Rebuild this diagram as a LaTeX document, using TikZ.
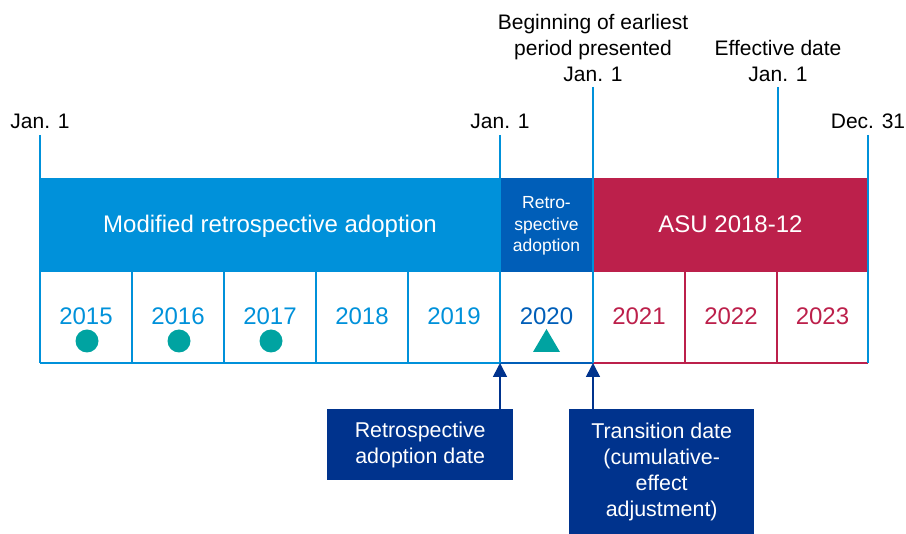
\documentclass[tikz,border=0pt]{standalone}
\usepackage{fontspec}
\setmainfont{Liberation Sans}
\usetikzlibrary{arrows.meta}
\definecolor{kblue}{HTML}{0091DA}
\definecolor{kmid}{HTML}{005EB8}
\definecolor{kred}{HTML}{BC204B}
\definecolor{kteal}{HTML}{00A3A1}
\definecolor{knavy}{HTML}{00338D}
\tikzset{
  bar/.style={draw=none, inner sep=0pt, anchor=north west, minimum height=94pt},
  bartext/.style={text=white, anchor=base, inner sep=0pt, font=\fontsize{24}{28}\selectfont},
  year/.style={anchor=base, inner sep=0pt, font=\fontsize{24}{28}\selectfont},
  datelabel/.style={anchor=base, inner sep=0pt, align=center, font=\fontsize{21}{26}\selectfont},
  tick/.style={draw=kblue, line width=1.6pt},
  cellline/.style={line width=1.6pt},
  callout/.style={fill=knavy, text=white, inner sep=0pt, anchor=north west, align=center,
    font=\fontsize{21.4}{26}\selectfont},
  arr/.style={draw=knavy, line width=1.6pt, -{Triangle[width=14pt,length=14pt]}},
  dot/.style={fill=kteal, draw=none}
}
\begin{document}
\begin{tikzpicture}[x=1pt,y=-1pt]
\useasboundingbox (0,0) rectangle (906,534);

% coloured period bars
\node[bar, fill=kblue, minimum width=460pt] (mra) at (40,178) {};
\node[bar, fill=kmid, minimum width=93pt] (ra) at (500,178) {};
\node[bar, fill=kred, minimum width=275pt] (asu) at (593,178) {};
\node[bartext] (mratext) at (270,233) {Modified retrospective adoption};
% multi-line labels are placed by the baseline of their last line
\node[bartext, align=center, font=\fontsize{17.5}{21.5}\selectfont] (ratext) at (546.5,252) {Retro-\\spective\\adoption};
\node[bartext] (asutext) at (730.5,233) {ASU 2018-12};

% tick coordinates on the time axis
\coordinate (a0) at (40,135);    \coordinate (b0) at (40,363);
\coordinate (a1) at (500,135);   \coordinate (b1) at (500,363);
\coordinate (a2) at (593,87);    \coordinate (b2) at (593,363);
\coordinate (a3) at (778,87);    \coordinate (b3) at (778,178);
\coordinate (a4) at (868,135);   \coordinate (b4) at (868,363);

% cell separators under the bars
\foreach \x in {132,224,316,408}
  \draw[cellline, draw=kblue] (\x,272) -- (\x,363);
\foreach \x in {685,777}
  \draw[cellline, draw=kred] (\x,272) -- (\x,363);

% bottom edge of the cells
\draw[cellline, draw=kblue] (b0) -- (b1);
\draw[cellline, draw=kmid] (b1) -- (b2);
\draw[cellline, draw=kred] (b2) -- (b4);

% date ticks
\draw[tick] (a0) -- (b0);
\draw[tick] (a1) -- (b1);
\draw[tick] (a2) -- (b2);
\draw[tick] (a3) -- (b3);
\draw[tick] (a4) -- (b4);

% date labels
\node[datelabel] (d0) at (40,129) {Jan. 1};
\node[datelabel] (d1) at (500,129) {Jan. 1};
\node[datelabel] (d2) at (593,82) {Beginning of earliest\\period presented\\Jan. 1};
\node[datelabel] (d3) at (778,82) {Effective date\\Jan. 1};
\node[datelabel] (d4) at (868,129) {Dec. 31};

% years
\node[year, text=kblue] (y15) at (86,325) {2015};
\node[year, text=kblue] (y16) at (178,325) {2016};
\node[year, text=kblue] (y17) at (270,325) {2017};
\node[year, text=kblue] (y18) at (362,325) {2018};
\node[year, text=kblue] (y19) at (454,325) {2019};
\node[year, text=kmid] (y20) at (546.5,325) {2020};
\node[year, text=kred] (y21) at (639,325) {2021};
\node[year, text=kred] (y22) at (731,325) {2022};
\node[year, text=kred] (y23) at (822.5,325) {2023};

% markers
\fill[dot] (87,341) circle (11.5);
\fill[dot] (179,341) circle (11.5);
\fill[dot] (271,341) circle (11.5);
\fill[dot] (546.5,329) -- (560,352) -- (533,352) -- cycle;

% callouts
\node[callout, minimum width=186pt, minimum height=71pt] (cb1) at (327,409)
  {Retrospective\\adoption date};
\node[callout, minimum width=185pt, minimum height=125pt] (cb2) at (569,409)
  {Transition date\\(cumulative-\\effect\\adjustment)};
\draw[arr] (cb1.north -| b1) -- (b1);
\draw[arr] (cb2.north -| b2) -- (b2);
\end{tikzpicture}
\end{document}
